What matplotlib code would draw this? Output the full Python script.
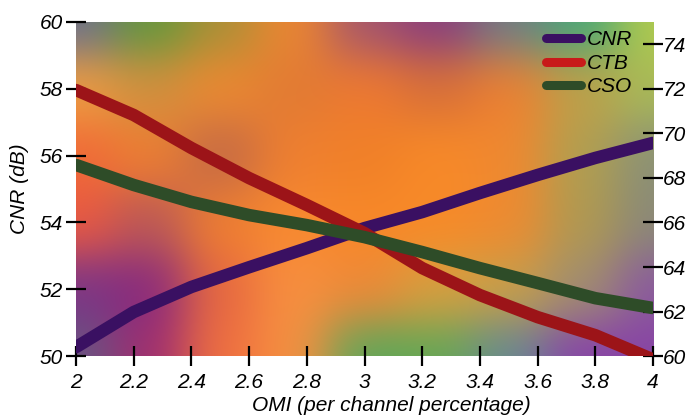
import numpy as np
import matplotlib
matplotlib.use("Agg")
import matplotlib.pyplot as plt
from matplotlib.colors import to_rgb

# ---- data -------------------------------------------------------------
omi = [2.0, 2.2, 2.4, 2.6, 2.8, 3.0, 3.2, 3.4, 3.6, 3.8, 4.0]
cnr = [50.27, 51.32, 52.07, 52.66, 53.23, 53.83, 54.31, 54.88, 55.42, 55.93, 56.38]
ctb = [71.94, 70.82, 69.34, 67.99, 66.78, 65.52, 63.95, 62.74, 61.75, 60.94, 59.85]
cso = [68.58, 67.68, 66.92, 66.33, 65.88, 65.34, 64.67, 63.95, 63.28, 62.60, 62.16]

x_ticks = [2.0, 2.2, 2.4, 2.6, 2.8, 3.0, 3.2, 3.4, 3.6, 3.8, 4.0]
x_tick_labels = ["2", "2.2", "2.4", "2.6", "2.8", "3", "3.2", "3.4", "3.6", "3.8", "4"]
left_ticks = [50, 52, 54, 56, 58, 60]
right_ticks = [60, 62, 64, 66, 68, 70, 72, 74]

# ---- decorative airbrushed backdrop -------------------------------------
# colour control grid: rows from y=60 down to y=50, columns x=2.0 .. 4.0
bg_x = np.linspace(2.0, 4.0, 9)
bg_y = np.array([60.0, 58.0, 56.0, 54.0, 52.0, 50.0])
bg_colors = [
    ["#6a6e92", "#5e9a3a", "#a89038", "#f08830", "#a05470", "#883a80", "#6e7e88", "#40a87c", "#b4cc4c"],
    ["#f2a040", "#d09040", "#f08a30", "#e07a34", "#f07a30", "#d87038", "#f08030", "#c0a048", "#a8bc58"],
    ["#f06838", "#f08030", "#c06848", "#f08030", "#f08028", "#f88a28", "#f08830", "#b0a050", "#8a9078"],
    ["#ee5a40", "#b85858", "#f08030", "#f88a30", "#f88828", "#f88a28", "#f08a30", "#b09a50", "#8a8a78"],
    ["#7a3488", "#862880", "#e86840", "#f89040", "#f08838", "#d8a040", "#c8a048", "#a09070", "#8a58a0"],
    ["#665882", "#a02c70", "#f07040", "#f89040", "#58a85c", "#62a854", "#648a94", "#8840aa", "#8844a4"],
]

def backdrop(nx=400, ny=240, sx=0.115, sy=0.95):
    gx = np.linspace(2.0, 4.0, nx)
    gy = np.linspace(60.0, 50.0, ny)
    X, Y = np.meshgrid(gx, gy)
    num = np.zeros((ny, nx, 3))
    den = np.zeros((ny, nx))
    for j, yv in enumerate(bg_y):
        for i, xv in enumerate(bg_x):
            w = np.exp(-0.5 * (((X - xv) / sx) ** 2 + ((Y - yv) / sy) ** 2))
            num += w[..., None] * np.array(to_rgb(bg_colors[j][i]))
            den += w
    return num / den[..., None]

# ---- figure ---------------------------------------------------------------
plt.rcParams["font.family"] = ["Liberation Sans", "DejaVu Sans"]
fig = plt.figure(figsize=(6.97, 4.20), dpi=100)
ax = fig.add_axes([0.109, 0.152, 0.828, 0.796])
ax.imshow(backdrop(), extent=[2.0, 4.0, 50.0, 60.0], aspect="auto",
          interpolation="bilinear", zorder=0)
ax.set_xlim(2.0, 4.0)
ax.set_ylim(50.0, 60.0)

ax2 = ax.twinx()
ax2.set_ylim(60.0, 75.0)

lw = 9
l_cnr, = ax.plot(omi, cnr, color="#3a1062", lw=lw, solid_capstyle="round",
                 solid_joinstyle="round", zorder=3, label="CNR")
l_ctb, = ax2.plot(omi, ctb, color="#9c1418", lw=lw, solid_capstyle="round",
                  solid_joinstyle="round", zorder=3, label="CTB")
l_cso, = ax2.plot(omi, cso, color="#2e4c28", lw=lw, solid_capstyle="round",
                  solid_joinstyle="round", zorder=3, label="CSO")

for a in (ax, ax2):
    for s in a.spines.values():
        s.set_visible(False)

fs = 15
tick_kw = dict(direction="inout", length=14.5, width=1.6, color="black",
               labelsize=fs)
ax.tick_params(axis="x", pad=5, **tick_kw)
ax.tick_params(axis="y", pad=2, **tick_kw)
ax2.tick_params(axis="y", pad=0, **tick_kw)

ax.set_xticks(x_ticks)
ax.set_xticklabels(x_tick_labels, fontstyle="italic")
ax.set_yticks(left_ticks)
ax.set_yticklabels([str(t) for t in left_ticks], fontstyle="italic")
ax2.set_yticks(right_ticks)
ax2.set_yticklabels([str(t) for t in right_ticks], fontstyle="italic")

ax.set_ylabel("CNR (dB)", fontsize=fs, fontstyle="italic", labelpad=8)
ax.set_xlabel("OMI (per channel percentage)", fontsize=fs, fontstyle="italic")
ax.xaxis.set_label_coords(0.546, -0.120)

leg = ax2.legend(handles=[l_cnr, l_ctb, l_cso], loc="upper right",
                 bbox_to_anchor=(0.985, 1.012), frameon=False,
                 handlelength=1.7, handletextpad=0.25, labelspacing=0.22,
                 borderaxespad=0.2, prop={"style": "italic", "size": fs})
for h in leg.get_lines():
    h.set_linewidth(6.5)
leg.get_lines()[1].set_color("#c81a1a")

fig.savefig("out.png", dpi=100)
